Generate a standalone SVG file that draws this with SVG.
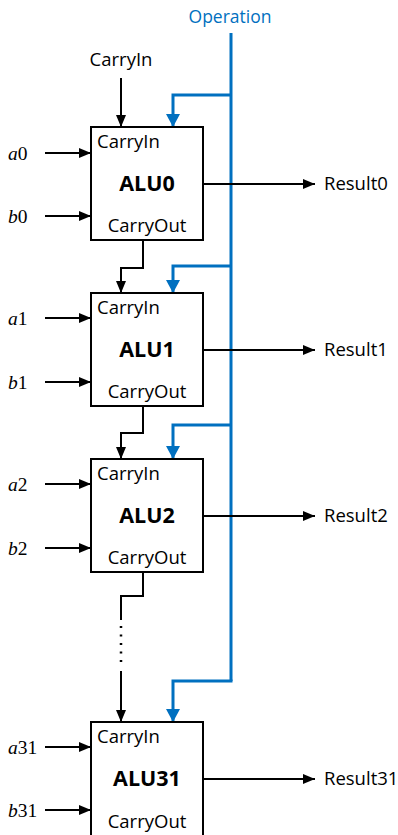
<svg xmlns="http://www.w3.org/2000/svg" width="398" height="835" viewBox="0 0 398 835">
<defs>
<marker id="ab" markerUnits="userSpaceOnUse" markerWidth="12" markerHeight="10" refX="12" refY="5" orient="auto"><path d="M0,0 L12,5 L0,10 z" fill="#000"/></marker>
<marker id="au" markerUnits="userSpaceOnUse" markerWidth="13" markerHeight="14" refX="13" refY="7" orient="auto"><path d="M0,0 L13,7 L0,14 z" fill="#0070C0"/></marker>
<style>
.box{fill:#fff;stroke:#000;stroke-width:2}
.s{font-family:"Open Sans","Liberation Sans",sans-serif;font-size:18.5px;fill:#000}
.b{font-family:"Open Sans","Liberation Sans",sans-serif;font-size:21.5px;font-weight:bold;fill:#000}
.v{font-family:"Liberation Serif",serif;font-size:19.5px;fill:#000}
.w{fill:none;stroke:#000;stroke-width:2}
.ar{marker-end:url(#ab)}
.bl{fill:none;stroke:#0070C0;stroke-width:3}
.bla{marker-end:url(#au)}
</style>
</defs>
<text x="230" y="23" class="s" style="fill:#0070C0;font-size:17.5px" text-anchor="middle">Operation</text>
<text x="121" y="66" class="s" text-anchor="middle">CarryIn</text>
<g id="connectors">
<line x1="121" y1="78" x2="121" y2="127" class="w ar"/>
<line x1="231" y1="33" x2="231" y2="681" class="bl"/>
<polyline points="231,95 173,95 173,127" class="bl bla"/>
<polyline points="231,266 173,266 173,293" class="bl bla"/>
<polyline points="231,425 173,425 173,459" class="bl bla"/>
<polyline points="232.5,681 173,681 173,722" class="bl bla"/>
<polyline points="143,240 143,268 121,268 121,293" class="w ar"/>
<polyline points="143,406 143,433 121,433 121,459" class="w ar"/>
<polyline points="143,572 143,596 121,596 121,620" class="w"/>
<line x1="121" y1="626" x2="121" y2="664" stroke="#000" stroke-width="2.5" stroke-dasharray="2 6.5"/>
<line x1="121" y1="671" x2="121" y2="722" class="w ar"/>
<line x1="45" y1="153" x2="91" y2="153" class="w ar"/>
<line x1="45" y1="216" x2="91" y2="216" class="w ar"/>
<line x1="203" y1="184" x2="315" y2="184" class="w ar"/>
<line x1="45" y1="318" x2="91" y2="318" class="w ar"/>
<line x1="45" y1="382" x2="91" y2="382" class="w ar"/>
<line x1="203" y1="350" x2="315" y2="350" class="w ar"/>
<line x1="45" y1="484" x2="91" y2="484" class="w ar"/>
<line x1="45" y1="548" x2="91" y2="548" class="w ar"/>
<line x1="203" y1="516" x2="315" y2="516" class="w ar"/>
<line x1="45" y1="747" x2="91" y2="747" class="w ar"/>
<line x1="45" y1="810" x2="91" y2="810" class="w ar"/>
<line x1="203" y1="779" x2="315" y2="779" class="w ar"/>
</g>
<g id="alu0">
<rect x="91" y="127" width="112" height="113" class="box"/>
<text x="97" y="148" class="s">CarryIn</text>
<text x="147" y="191" class="b" text-anchor="middle">ALU0</text>
<text x="147" y="232" class="s" text-anchor="middle">CarryOut</text>
</g>
<g id="alu1">
<rect x="91" y="293" width="112" height="113" class="box"/>
<text x="97" y="314" class="s">CarryIn</text>
<text x="147" y="357" class="b" text-anchor="middle">ALU1</text>
<text x="147" y="398" class="s" text-anchor="middle">CarryOut</text>
</g>
<g id="alu2">
<rect x="91" y="459" width="112" height="113" class="box"/>
<text x="97" y="480" class="s">CarryIn</text>
<text x="147" y="523" class="b" text-anchor="middle">ALU2</text>
<text x="147" y="564" class="s" text-anchor="middle">CarryOut</text>
</g>
<g id="alu31">
<rect x="91" y="722" width="112" height="120" class="box"/>
<text x="97" y="743" class="s">CarryIn</text>
<text x="147" y="786" class="b" text-anchor="middle">ALU31</text>
<text x="147" y="828" class="s" text-anchor="middle">CarryOut</text>
</g>
<g id="inputs">
<text x="8" y="160" class="v"><tspan font-style="italic">a</tspan>0</text>
<text x="8" y="223" class="v"><tspan font-style="italic">b</tspan>0</text>
<text x="8" y="325" class="v"><tspan font-style="italic">a</tspan>1</text>
<text x="8" y="389" class="v"><tspan font-style="italic">b</tspan>1</text>
<text x="8" y="491" class="v"><tspan font-style="italic">a</tspan>2</text>
<text x="8" y="555" class="v"><tspan font-style="italic">b</tspan>2</text>
<text x="8" y="754" class="v"><tspan font-style="italic">a</tspan>31</text>
<text x="8" y="817" class="v"><tspan font-style="italic">b</tspan>31</text>
</g>
<g id="outputs">
<text x="324" y="190" class="s">Result0</text>
<text x="324" y="356" class="s">Result1</text>
<text x="324" y="522" class="s">Result2</text>
<text x="324" y="785" class="s">Result31</text>
</g>
</svg>
